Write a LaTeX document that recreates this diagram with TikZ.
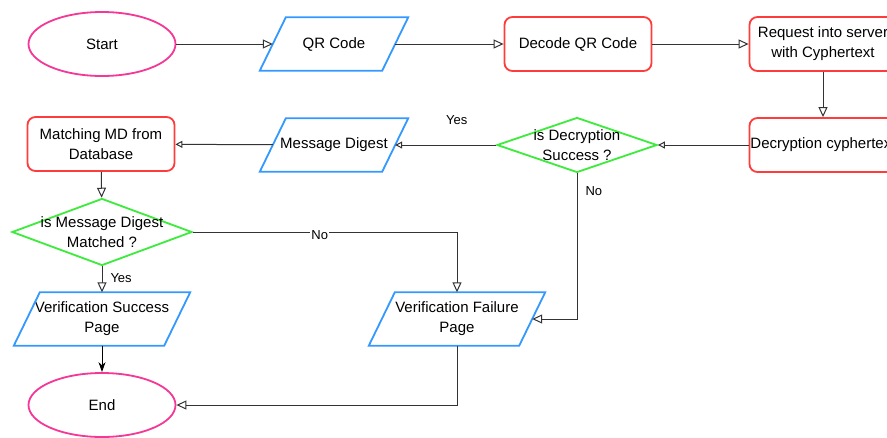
\documentclass[tikz,border=0pt]{standalone}
\usepackage{fontspec}
\setmainfont{Liberation Sans}
\usetikzlibrary{shapes.geometric,arrows.meta,calc}
\definecolor{pinkc}{RGB}{245,55,150}
\definecolor{redc}{RGB}{255,60,60}
\definecolor{bluec}{RGB}{51,153,255}
\definecolor{greenc}{RGB}{60,235,60}
\definecolor{linec}{RGB}{51,51,51}
\tikzset{
  every node/.style={font=\fontsize{15}{20}\selectfont, align=center, inner sep=0pt},
  term/.style={ellipse, draw=pinkc, line width=1.8pt, minimum width=147pt, minimum height=64pt},
  proc/.style={rectangle, rounded corners=8pt, draw=redc, line width=1.8pt, minimum width=147pt, minimum height=54pt},
  iobox/.style={rectangle, minimum width=#1, minimum height=53pt},
  iobox/.default=122pt,
  decision/.style={diamond, draw=greenc, line width=1.8pt, minimum width=#1},
  conn/.style={draw=linec, line width=1pt, -{Triangle[open, fill=white, length=10pt, width=9pt]}},
  connsmall/.style={draw=linec, line width=1pt, -{Triangle[open, fill=white, length=7pt, width=7pt]}},
  connsolid/.style={draw=black, line width=1pt, -{Stealth[length=10pt, width=7pt]}},
  lbl/.style={font=\fontsize{13}{15}\selectfont},
}
\newcommand\paraframe[1]{%
  \draw[draw=bluec, line width=1.8pt, line join=miter]
    ([xshift=13pt]#1.north west) -- ([xshift=13pt]#1.north east) --
    ([xshift=-13pt]#1.south east) -- ([xshift=-13pt]#1.south west) -- cycle;}
\begin{document}
\begin{tikzpicture}[x=1pt, y=-1pt]
\useasboundingbox (0,0) rectangle (887,437);
\clip (0,0) rectangle (887,437);
\fill[white] (0,0) rectangle (887,437);
% nodes
\node[term] (start) at (102,44) {Start};
\node[iobox] (qr) at (334,44) {QR Code};
\node[proc] (dec) at (578,44) {Decode QR Code};
\node[proc] (req) at (823,44) {Request into server\\with Cyphertext};
\node[proc] (dcy) at (823,145) {Decryption cyphertext};
\node[decision, minimum width=160pt, minimum height=55pt, aspect=2.9,
      label={[align=center]center:is Decryption\\Success ?}] (ds) at (577,145) {};
\node[iobox] (md) at (334,145) {Message Digest};
\node[proc] (match) at (101,144) {Matching MD from\\Database};
\node[decision, minimum width=180pt, minimum height=67pt, aspect=2.7,
      label={[align=center]center:is Message Digest\\Matched ?}] (dm) at (102,232) {};
\node[iobox=150pt] (vs) at (102,319) {Verification Success\\Page};
\node[iobox=150pt] (vf) at (457,319) {Verification Failure\\Page};
\node[term] (end) at (102,405) {End};
\paraframe{qr}
\paraframe{md}
\paraframe{vs}
\paraframe{vf}
% connectors
\draw[conn] (start) -- (qr);
\draw[conn] (qr) -- (dec);
\draw[conn] (dec) -- (req);
\draw[conn] (req) -- (dcy);
\draw[connsmall] (dcy) -- (ds);
\draw[connsmall] (ds) -- node[lbl, pos=0.39, above=20pt] {Yes} (md);
\draw[connsmall] (md) -- (match);
\draw[conn] (match) -- (dm);
\draw[conn] (dm.east) -| node[lbl, pos=0.24, fill=white, inner sep=1pt, yshift=-3pt] {No} (vf.north);
\draw[conn] (dm.south) -- node[lbl, right=8pt, pos=0.45] {Yes} (vs.north);
\draw[conn] (ds.south) |- node[lbl, pos=0.06, right=8pt] {No} (vf.east);
\draw[connsolid] (vs.south) -- (end.north);
\draw[conn] (vf.south) |- (end.east);
\end{tikzpicture}
\end{document}
